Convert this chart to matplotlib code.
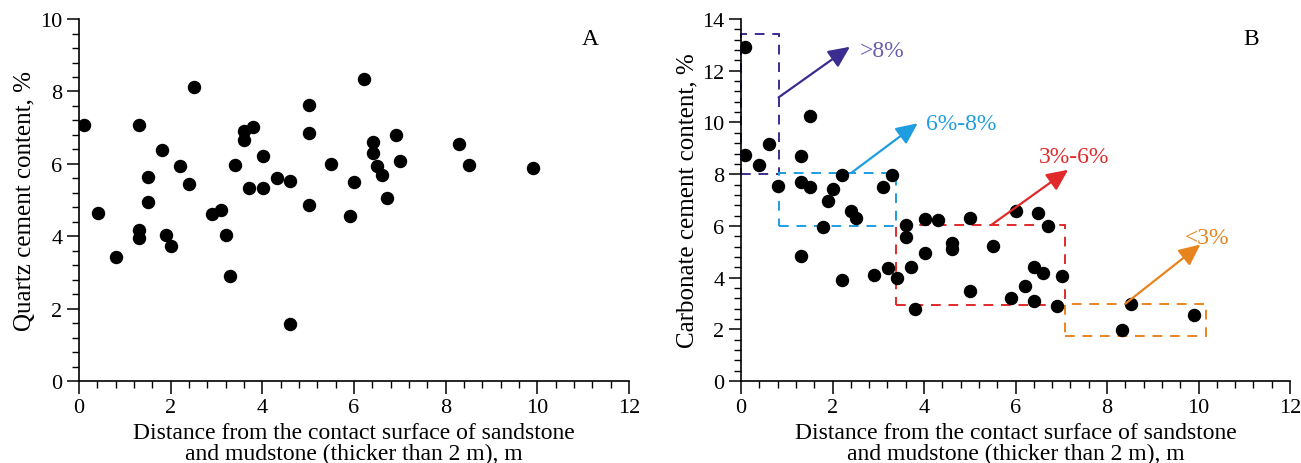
import matplotlib

matplotlib.use("Agg")
import matplotlib.pyplot as plt
from matplotlib.patches import Rectangle
from matplotlib.ticker import MultipleLocator

plt.rcParams["font.family"] = ["Liberation Serif", "DejaVu Serif"]

# panel A: quartz cement vs distance
quartz_x = [0.12, 0.41, 0.80, 1.30, 1.30, 1.30, 1.51, 1.51, 1.81, 1.90, 2.01, 2.21,
            2.40, 2.51, 2.90, 3.10, 3.20, 3.29, 3.40, 3.60, 3.60, 3.70, 3.80, 4.01,
            4.01, 4.31, 4.61, 4.61, 5.01, 5.01, 5.01, 5.50, 5.91, 6.01, 6.21, 6.41,
            6.41, 6.51, 6.61, 6.71, 6.91, 7.01, 8.30, 8.50, 9.90]
quartz_y = [7.08, 4.64, 3.43, 7.08, 4.16, 3.95, 5.65, 4.95, 6.39, 4.03, 3.74, 5.93,
            5.44, 8.11, 4.62, 4.72, 4.04, 2.89, 5.97, 6.92, 6.67, 5.33, 7.02, 6.21,
            5.33, 5.61, 5.54, 1.58, 7.63, 6.84, 4.85, 6.00, 4.57, 5.51, 8.35, 6.61,
            6.29, 5.95, 5.68, 5.07, 6.80, 6.08, 6.55, 5.96, 5.88]

# panel B: carbonate cement vs distance
carb_x = [0.09, 0.09, 0.40, 0.60, 0.81, 1.30, 1.30, 1.50, 1.50, 1.30, 1.80, 1.90,
          2.00, 2.20, 2.20, 2.41, 2.51, 2.91, 3.11, 3.21, 3.30, 3.40, 3.60, 3.60,
          3.71, 3.81, 4.01, 4.01, 4.30, 4.60, 4.60, 5.00, 5.00, 5.51, 5.91, 6.01,
          6.21, 6.40, 6.40, 6.50, 6.61, 6.71, 6.91, 7.01, 8.32, 8.52, 9.90]
carb_y = [12.93, 8.75, 8.37, 9.18, 7.55, 8.71, 7.68, 7.50, 10.26, 4.83, 5.95, 6.95,
          7.43, 7.95, 3.91, 6.59, 6.31, 4.12, 7.49, 4.38, 7.98, 3.99, 6.05, 5.56,
          4.41, 2.77, 6.27, 4.95, 6.22, 5.34, 5.12, 6.31, 3.47, 5.21, 3.20, 6.56,
          3.66, 4.41, 3.11, 6.50, 4.18, 5.98, 2.92, 4.05, 1.99, 2.99, 2.55]

# grouping boxes: (x0, x1, y0, y1), arrow start/end, label pos, label, colour
box_labels = [">8%", "6%-8%", "3%-6%", "<3%"]
box_colors = ["#3b2d8f", "#1e9de0", "#e02a2a", "#e8841e"]
text_colors = ["#6a5cae", "#1e9de0", "#e02a2a", "#e8841e"]
box_extent = [(0.0, 0.82, 8.0, 13.42), (0.82, 3.38, 6.0, 8.04),
              (3.38, 7.08, 2.95, 6.05), (7.08, 10.17, 1.74, 2.99)]
arrow_start = [(0.82, 10.97), (2.40, 8.04), (5.48, 6.05), (8.40, 2.99)]
arrow_end = [(2.38, 12.93), (3.86, 9.97), (7.15, 8.17), (10.04, 5.28)]
label_pos = [(2.60, 12.80), (4.05, 9.97), (6.50, 8.70), (9.70, 5.55)]

fig = plt.figure(figsize=(13.01, 4.64), dpi=100)
ax_a = fig.add_axes([0.0607, 0.1767, 0.4228, 0.780])
ax_b = fig.add_axes([0.5696, 0.1767, 0.4220, 0.780])


def style_axis(ax, ymax, ylabel, tag):
    ax.set_xlim(0, 12)
    ax.set_ylim(0, ymax)
    for side in ("top", "right"):
        ax.spines[side].set_visible(False)
    for side in ("left", "bottom"):
        ax.spines[side].set_linewidth(1.2)
    ax.xaxis.set_major_locator(MultipleLocator(2))
    ax.xaxis.set_minor_locator(MultipleLocator(0.4))
    ax.yaxis.set_major_locator(MultipleLocator(2))
    ax.yaxis.set_minor_locator(MultipleLocator(0.4))
    ax.tick_params(which="major", length=9, width=1.1, labelsize=16, direction="out", pad=3)
    ax.tick_params(which="minor", length=5, width=1.0, direction="out")
    ax.set_xlabel("Distance from the contact surface of sandstone\n"
                  "and mudstone (thicker than 2 m), m", fontsize=17, linespacing=0.95,
                  labelpad=4)
    ax.set_ylabel(ylabel, fontsize=18, labelpad=3)
    ax.text(0.93, 0.945, tag, transform=ax.transAxes, fontsize=17, ha="center", va="center")


style_axis(ax_a, 10, "Quartz cement content, %", "A")
ax_a.scatter(quartz_x, quartz_y, s=75, color="black", zorder=3)

style_axis(ax_b, 14, "Carbonate cement content, %", "B")
ax_b.scatter(carb_x, carb_y, s=75, color="black", zorder=3)

for (x0, x1, y0, y1), p0, p1, lp, lab, col, tcol in zip(
        box_extent, arrow_start, arrow_end, label_pos, box_labels, box_colors, text_colors):
    ax_b.add_patch(Rectangle((x0, y0), x1 - x0, y1 - y0, fill=False, edgecolor=col,
                             linestyle=(0, (5, 4)), linewidth=1.4, zorder=2, clip_on=False))
    ax_b.annotate("", xy=p1, xytext=p0,
                  arrowprops=dict(arrowstyle="-|>,head_length=1.3,head_width=0.6",
                                  color=col, lw=1.6, shrinkA=0, shrinkB=0))
    ax_b.text(lp[0], lp[1], lab, color=tcol, fontsize=17, ha="left", va="center")

fig.savefig("out.png", dpi=100)
